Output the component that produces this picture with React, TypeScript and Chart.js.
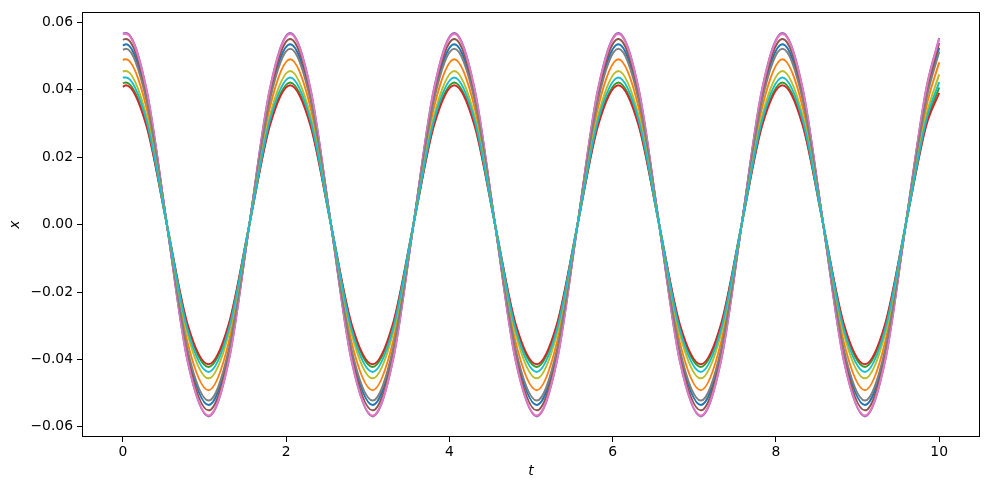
import React, { useEffect, useRef } from "react";
import { Chart, registerables } from "chart.js";

Chart.register(...registerables);

// Sample times (t): start, peaks, troughs, zero crossings and mid points, end
const tValues = [
  0,
  0.04, 0.29, 0.54, 0.79, 1.05, 1.30, 1.55, 1.80,
  2.05, 2.30, 2.55, 2.80, 3.06, 3.31, 3.56, 3.81,
  4.06, 4.31, 4.56, 4.81, 5.07, 5.32, 5.57, 5.82,
  6.07, 6.32, 6.57, 6.82, 7.08, 7.33, 7.58, 7.83,
  8.08, 8.33, 8.58, 8.83, 9.09, 9.34, 9.59, 9.84,
  10.0,
];

const seriesBlue = [
  0.0532,
  0.0535, 0.0378, 0, -0.0378, -0.0535, -0.0378, 0, 0.0378,
  0.0535, 0.0378, 0, -0.0378, -0.0535, -0.0378, 0, 0.0378,
  0.0535, 0.0378, 0, -0.0378, -0.0535, -0.0378, 0, 0.0378,
  0.0535, 0.0378, 0, -0.0378, -0.0535, -0.0378, 0, 0.0378,
  0.0535, 0.0378, 0, -0.0378, -0.0535, -0.0378, 0, 0.0378,
  0.0525,
];
const seriesOrange = [
  0.0489,
  0.0491, 0.0347, 0, -0.0347, -0.0491, -0.0347, 0, 0.0347,
  0.0491, 0.0347, 0, -0.0347, -0.0491, -0.0347, 0, 0.0347,
  0.0491, 0.0347, 0, -0.0347, -0.0491, -0.0347, 0, 0.0347,
  0.0491, 0.0347, 0, -0.0347, -0.0491, -0.0347, 0, 0.0347,
  0.0491, 0.0347, 0, -0.0347, -0.0491, -0.0347, 0, 0.0347,
  0.0482,
];
const seriesGreen = [
  0.0420,
  0.0422, 0.0298, 0, -0.0298, -0.0422, -0.0298, 0, 0.0298,
  0.0422, 0.0298, 0, -0.0298, -0.0422, -0.0298, 0, 0.0298,
  0.0422, 0.0298, 0, -0.0298, -0.0422, -0.0298, 0, 0.0298,
  0.0422, 0.0298, 0, -0.0298, -0.0422, -0.0298, 0, 0.0298,
  0.0422, 0.0298, 0, -0.0298, -0.0422, -0.0298, 0, 0.0298,
  0.0407,
];
const seriesRed = [
  0.0409,
  0.0414, 0.0293, 0, -0.0293, -0.0414, -0.0293, 0, 0.0293,
  0.0414, 0.0293, 0, -0.0293, -0.0414, -0.0293, 0, 0.0293,
  0.0414, 0.0293, 0, -0.0293, -0.0414, -0.0293, 0, 0.0293,
  0.0414, 0.0293, 0, -0.0293, -0.0414, -0.0293, 0, 0.0293,
  0.0414, 0.0293, 0, -0.0293, -0.0414, -0.0293, 0, 0.0293,
  0.0391,
];
const seriesPurple = [
  0.0567,
  0.0569, 0.0402, 0, -0.0402, -0.0569, -0.0402, 0, 0.0402,
  0.0569, 0.0402, 0, -0.0402, -0.0569, -0.0402, 0, 0.0402,
  0.0569, 0.0402, 0, -0.0402, -0.0569, -0.0402, 0, 0.0402,
  0.0569, 0.0402, 0, -0.0402, -0.0569, -0.0402, 0, 0.0402,
  0.0569, 0.0402, 0, -0.0402, -0.0569, -0.0402, 0, 0.0402,
  0.0554,
];
const seriesBrown = [
  0.0549,
  0.0551, 0.0390, 0, -0.0390, -0.0551, -0.0390, 0, 0.0390,
  0.0551, 0.0390, 0, -0.0390, -0.0551, -0.0390, 0, 0.0390,
  0.0551, 0.0390, 0, -0.0390, -0.0551, -0.0390, 0, 0.0390,
  0.0551, 0.0390, 0, -0.0390, -0.0551, -0.0390, 0, 0.0390,
  0.0551, 0.0390, 0, -0.0390, -0.0551, -0.0390, 0, 0.0390,
  0.0539,
];
const seriesPink = [
  0.0565,
  0.0566, 0.0400, 0, -0.0400, -0.0566, -0.0400, 0, 0.0400,
  0.0566, 0.0400, 0, -0.0400, -0.0566, -0.0400, 0, 0.0400,
  0.0566, 0.0400, 0, -0.0400, -0.0566, -0.0400, 0, 0.0400,
  0.0566, 0.0400, 0, -0.0400, -0.0566, -0.0400, 0, 0.0400,
  0.0566, 0.0400, 0, -0.0400, -0.0566, -0.0400, 0, 0.0400,
  0.0552,
];
const seriesGray = [
  0.0519,
  0.0522, 0.0369, 0, -0.0369, -0.0522, -0.0369, 0, 0.0369,
  0.0522, 0.0369, 0, -0.0369, -0.0522, -0.0369, 0, 0.0369,
  0.0522, 0.0369, 0, -0.0369, -0.0522, -0.0369, 0, 0.0369,
  0.0522, 0.0369, 0, -0.0369, -0.0522, -0.0369, 0, 0.0369,
  0.0522, 0.0369, 0, -0.0369, -0.0522, -0.0369, 0, 0.0369,
  0.0513,
];
const seriesOlive = [
  0.0455,
  0.0456, 0.0322, 0, -0.0322, -0.0456, -0.0322, 0, 0.0322,
  0.0456, 0.0322, 0, -0.0322, -0.0456, -0.0322, 0, 0.0322,
  0.0456, 0.0322, 0, -0.0322, -0.0456, -0.0322, 0, 0.0322,
  0.0456, 0.0322, 0, -0.0322, -0.0456, -0.0322, 0, 0.0322,
  0.0456, 0.0322, 0, -0.0322, -0.0456, -0.0322, 0, 0.0322,
  0.0446,
];
const seriesCyan = [
  0.0437,
  0.0437, 0.0309, 0, -0.0309, -0.0437, -0.0309, 0, 0.0309,
  0.0437, 0.0309, 0, -0.0309, -0.0437, -0.0309, 0, 0.0309,
  0.0437, 0.0309, 0, -0.0309, -0.0437, -0.0309, 0, 0.0309,
  0.0437, 0.0309, 0, -0.0309, -0.0437, -0.0309, 0, 0.0309,
  0.0437, 0.0309, 0, -0.0309, -0.0437, -0.0309, 0, 0.0309,
  0.0423,
];

const allSeries = [
  seriesBlue, seriesOrange, seriesGreen, seriesRed, seriesPurple,
  seriesBrown, seriesPink, seriesGray, seriesOlive, seriesCyan,
];
const seriesColors = [
  "#1f77b4", "#ff7f0e", "#2ca02c", "#d62728", "#9467bd",
  "#8c564b", "#e377c2", "#7f7f7f", "#bcbd22", "#17becf",
];

const xTicks = [0, 2, 4, 6, 8, 10];
const yTicks = [-0.06, -0.04, -0.02, 0, 0.02, 0.04, 0.06];

const FONT = "'DejaVu Sans', sans-serif";

const framePlugin = {
  id: "frame",
  afterDatasetsDraw(chart: any) {
    const { ctx, chartArea } = chart;
    ctx.save();
    ctx.strokeStyle = "#000";
    ctx.lineWidth = 1;
    const l = Math.round(chartArea.left) + 0.5;
    const t = Math.round(chartArea.top) + 0.5;
    const r = Math.round(chartArea.right) - 0.5;
    const b = Math.round(chartArea.bottom) - 0.5;
    ctx.strokeRect(l, t, r - l, b - t);
    ctx.restore();
  },
};

export default function App() {
  const ref = useRef<HTMLCanvasElement>(null);

  useEffect(() => {
    document.body.style.margin = "0";
    const canvas = ref.current;
    if (!canvas) return;
    const n = allSeries.length;
    const chart = new Chart(canvas, {
      type: "line",
      data: {
        datasets: allSeries.map((vals, i) => ({
          label: `series ${i}`,
          data: vals.map((v, j) => ({ x: tValues[j], y: v })),
          borderColor: seriesColors[i],
          backgroundColor: seriesColors[i],
          borderWidth: 2,
          pointRadius: 0,
          fill: false,
          order: n - 1 - i,
          cubicInterpolationMode: "monotone" as const,
        })),
      },
      options: {
        animation: false,
        responsive: false,
        devicePixelRatio: 1,
        layout: { padding: { left: 0, right: 9, top: 10, bottom: 0 } },
        plugins: {
          legend: { display: false },
          tooltip: { enabled: false },
        },
        scales: {
          x: {
            type: "linear",
            min: -0.5,
            max: 10.5,
            afterBuildTicks: (s: any) => {
              s.ticks = xTicks.map((v) => ({ value: v }));
            },
            afterFit: (s: any) => {
              s.height = 53;
            },
            border: { display: false },
            grid: {
              drawOnChartArea: false,
              drawTicks: true,
              tickLength: 5,
              tickColor: "#000",
              color: "#000",
            },
            ticks: {
              color: "#000",
              padding: 2,
              maxRotation: 0,
              autoSkip: false,
              font: { family: FONT, size: 13.9 },
              callback: (v: any) => String(v),
            },
            title: {
              display: true,
              text: "t",
              color: "#000",
              font: { family: FONT, size: 13.9, style: "italic" },
              padding: { top: 0, bottom: 10.6 },
            },
          },
          y: {
            type: "linear",
            min: -0.063,
            max: 0.063,
            afterBuildTicks: (s: any) => {
              s.ticks = yTicks.map((v) => ({ value: v }));
            },
            afterFit: (s: any) => {
              s.width = 82;
            },
            border: { display: false },
            grid: {
              drawOnChartArea: false,
              drawTicks: true,
              tickLength: 5,
              tickColor: "#000",
              color: "#000",
            },
            ticks: {
              color: "#000",
              padding: 4,
              autoSkip: false,
              font: { family: FONT, size: 13.9 },
              callback: (v: any) => {
                const num = Number(v);
                const s = Math.abs(num).toFixed(2);
                return num < -1e-9 ? "\u2212" + s : s;
              },
            },
            title: {
              display: true,
              text: "x",
              color: "#000",
              font: { family: FONT, size: 13.9, style: "italic" },
              padding: { top: 6.6, bottom: 0 },
            },
          },
        },
      },
      plugins: [framePlugin],
    });
    return () => chart.destroy();
  }, []);

  return (
    <div style={{ width: 989, height: 490 }}>
      <canvas ref={ref} width={989} height={490} style={{ display: "block" }} />
    </div>
  );
}
